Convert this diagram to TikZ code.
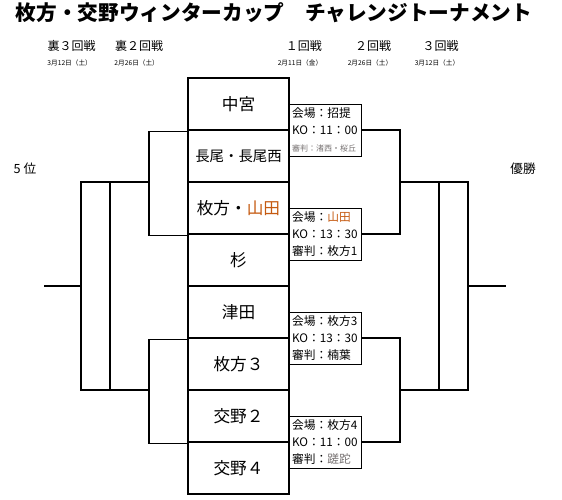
\documentclass[tikz,border=0pt]{standalone}
\usepackage{fontspec}
\setmainfont{Noto Sans CJK JP}
\definecolor{yamadaorange}{RGB}{197,90,17}
\definecolor{refgray}{RGB}{118,113,113}

\begin{document}
\begin{tikzpicture}[x=0.75pt,y=-0.75pt,
  team/.style={draw, line width=2.2pt, minimum width=75.75pt, minimum height=39pt, inner sep=0pt, font=\fontsize{12.5}{14}\selectfont},
  info/.style={draw, line width=0.75pt, anchor=west, minimum height=39pt, text width=50pt, inner xsep=2pt, inner ysep=0pt, align=left, font=\fontsize{8.8}{12.6}\selectfont},
  head/.style={font=\fontsize{9}{10}\selectfont},
  day/.style={font=\fontsize{5}{6}\selectfont},
  line/.style={line width=0.9pt}]
\useasboundingbox (0,0) rectangle (562,500);

% title and round headers
\node[font=\fontsize{15.5}{17}\selectfont\bfseries] (title) at (274,13) {枚方・交野ウィンターカップ　チャレンジトーナメント};
\node[head] (r3b) at (71.7,46) {裏３回戦};
\node[day] (d3b) at (69.7,62.7) {3月12日（土）};
\node[head] (r2b) at (139,46) {裏２回戦};
\node[day] (d2b) at (136.7,62.7) {2月26日（土）};
\node[head] (r1) at (304,46) {１回戦};
\node[day] (d1) at (300,62.7) {2月11日（金）};
\node[head] (r2) at (373,46) {２回戦};
\node[day] (d2) at (370,62.7) {2月26日（土）};
\node[head] (r3) at (440.7,46) {３回戦};
\node[day] (d3) at (437,62.7) {3月12日（土）};

\node[font=\fontsize{9.5}{11}\selectfont] (fifth) at (25,169) {5 位};
\node[font=\fontsize{9.5}{11}\selectfont] (champ) at (523,169) {優勝};

% teams
\node[team] (nakamiya) at (238.5,104) {中宮};
\node[team, font=\fontsize{10.8}{12}\selectfont] (nagao) at (238.5,156) {長尾・長尾西};
\node[team] (yamada) at (238.5,208) {枚方・\textcolor{yamadaorange}{山田}};
\node[team] (sugi) at (238.5,260) {杉};
\node[team] (tsuda) at (238.5,312) {津田};
\node[team] (hira3) at (238.5,364) {枚方３};
\node[team] (kata2) at (238.5,416) {交野２};
\node[team] (kata4) at (238.5,468) {交野４};

% match info
\node[info] (m1) at (289,130) {会場：招提\\KO：11：00\\{\fontsize{6}{7}\selectfont\color{refgray}審判：渚西・桜丘}};
\node[info] (m2) at (289,234) {会場：\textcolor{yamadaorange}{山田}\\KO：13：30\\審判：枚方1};
\node[info] (m3) at (289,338) {会場：枚方3\\KO：13：30\\審判：楠葉};
\node[info] (m4) at (289,442) {会場：枚方4\\KO：11：00\\審判：\textcolor{refgray}{蹉跎}};

% right bracket
\coordinate (w1) at (400,182);
\coordinate (w2) at (400,390);
\coordinate (wf) at (468,286);
\coordinate (wend) at (506,286);
\draw[line] (m1.east) -| (w1) |- (m2.east);
\draw[line] (m3.east) -| (w2) |- (m4.east);
\draw[line] (w1) -| (wf) |- (w2);
\draw[line] (439,182) -- (439,390);
\draw[line] (wf) -- (wend);

% left bracket
\coordinate (l1) at (149,182);
\coordinate (l2) at (149,390);
\coordinate (lf) at (81,286);
\coordinate (lend) at (44,286);
\draw[line] (nakamiya.south west) -| (l1) |- (yamada.south west);
\draw[line] (tsuda.south west) -| (l2) |- (kata2.south west);
\draw[line] (l1) -| (lf) |- (l2);
\draw[line] (110,182) -- (110,390);
\draw[line] (lf) -- (lend);
\end{tikzpicture}
\end{document}
